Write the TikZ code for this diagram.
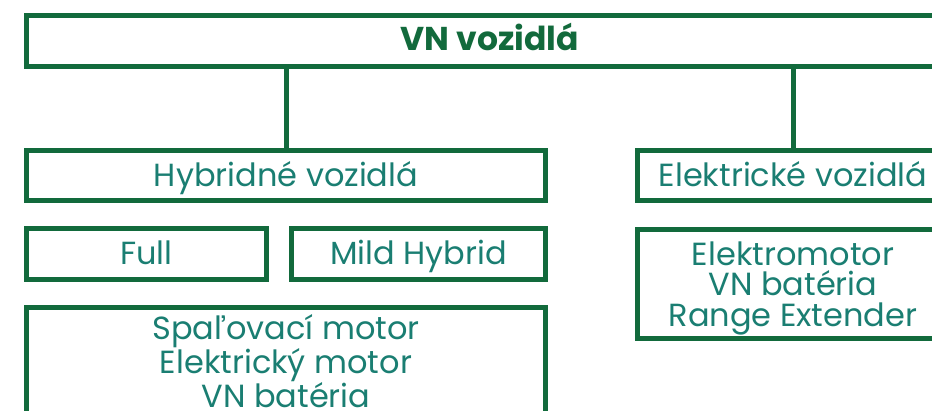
\documentclass[tikz,border=0pt]{standalone}
\usepackage{fontspec}
\setmainfont{Poppins}
\definecolor{boxgreen}{HTML}{126A3C}
\definecolor{textteal}{HTML}{1A7E72}
\begin{document}
\begin{tikzpicture}[x=1pt,y=1pt,
  frame/.style={draw=boxgreen, line width=5pt, rectangle, inner sep=0pt, outer sep=0pt,
                text=textteal, font=\fontsize{32}{30.5}\selectfont, align=center},
  oneline/.style={text height=22pt, text depth=0pt},
  listtext/.style={text=textteal, font=\fontsize{32}{30.5}\selectfont, align=center, inner sep=0pt},
  link/.style={draw=boxgreen, line width=5pt}]
\useasboundingbox (0,0) rectangle (932,411);
\clip (0,0) rectangle (932,411);
% top level
\node[frame, minimum width=927pt, minimum height=51pt, text=boxgreen,
      text height=20pt, text depth=0pt,
      font=\fontsize{33}{33}\selectfont\bfseries] (root) at (490,370) {VN vozidlá};
% second level
\node[frame, oneline, minimum width=519pt, minimum height=50pt] (hyb) at (286,235.5) {Hybridné vozidlá};
\node[frame, oneline, minimum width=311pt, minimum height=50pt] (ele) at (793,235.5) {Elektrické vozidlá};
% hybrid types
\node[frame, oneline, minimum width=240pt, minimum height=51pt] (full) at (146.5,157) {Full};
\node[frame, oneline, minimum width=254pt, minimum height=51pt] (mild) at (418.5,157) {Mild Hybrid};
% component lists
\node[frame, minimum width=311pt, minimum height=109pt] (ecomp) at (793,127) {};
\node[listtext] (ecompt) at ([yshift=-4pt]ecomp.center) {Elektromotor\\VN batéria\\Range Extender};
\node[frame, minimum width=519pt, minimum height=115pt] (hcomp) at (286,46) {};
\node[listtext] (hcompt) at ([yshift=4pt]hcomp.center) {Spaľovací motor\\Elektrický motor\\VN batéria};
% connectors
\draw[link] (root.south -| hyb.north) -- (hyb.north);
\draw[link] (root.south -| ele.north) -- (ele.north);
\end{tikzpicture}
\end{document}
